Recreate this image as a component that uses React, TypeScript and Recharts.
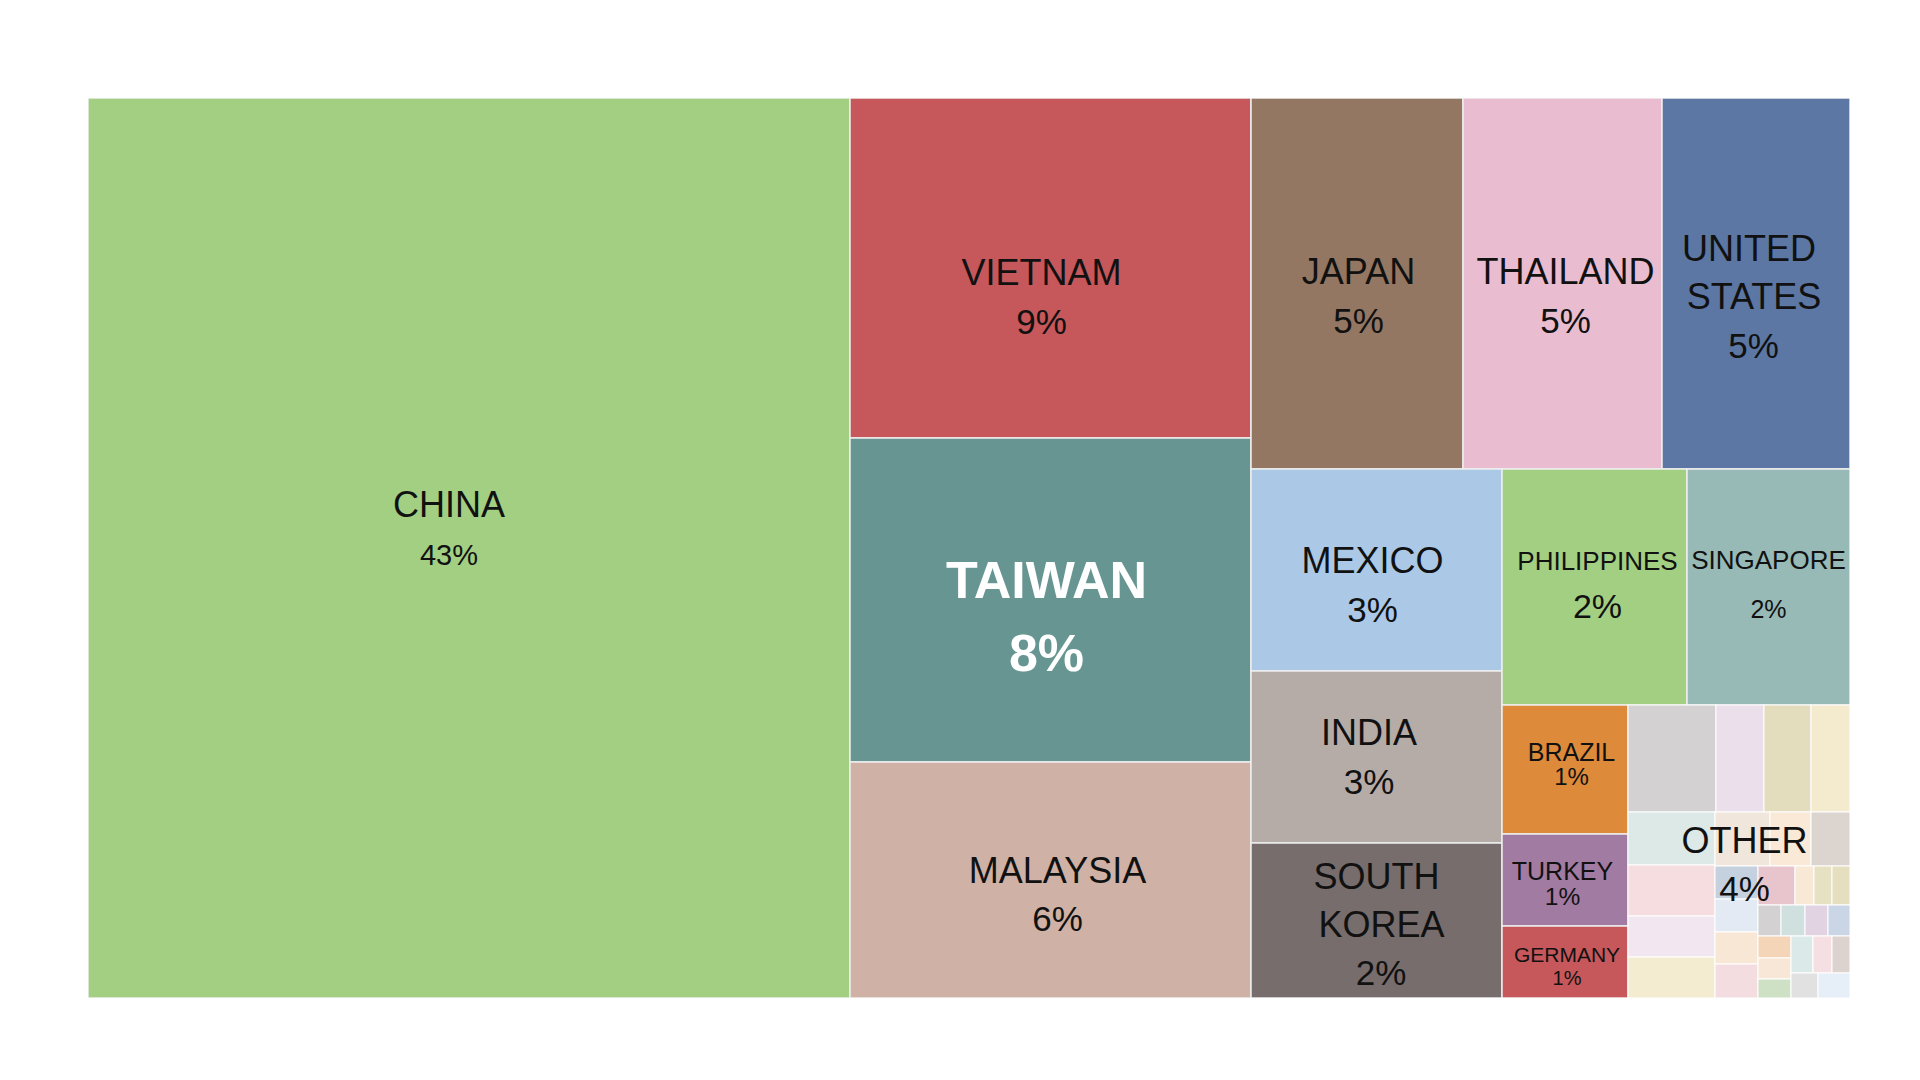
import React from 'react';
import { Treemap } from 'recharts';

// ---- data ----
const countries = [
  'CHINA', 'VIETNAM', 'TAIWAN', 'MALAYSIA', 'JAPAN', 'THAILAND', 'UNITED\nSTATES',
  'MEXICO', 'INDIA', 'SOUTH\nKOREA', 'PHILIPPINES', 'SINGAPORE', 'BRAZIL', 'TURKEY', 'GERMANY', 'OTHER',
];
const shares = [43.25, 8.6, 8.19, 5.97, 4.96, 4.66, 4.4, 3.2, 2.72, 2.45, 2.75, 2.43, 1.025, 0.73, 0.57, 0];
const shareLabels = ['43%', '9%', '8%', '6%', '5%', '5%', '5%', '3%', '3%', '2%', '2%', '2%', '1%', '1%', '1%', '4%'];
const otherShares = [
  0.5965, 0.322, 0.3152, 0.2712,
  0.2897, 0.2814, 0.2263, 0.2263,
  0.1856, 0.1392, 0.1375,
  0.0908, 0.0908, 0.0868, 0.0868,
  0.0898, 0.0467, 0.0455, 0.0431,
  0.0457, 0.0467, 0.0447, 0.0447,
  0.0461, 0.0429, 0.0407,
  0.0503, 0.0455, 0.0419,
  0.0426, 0.039,
];

// ---- styles ----
const countryColors: Record<string, string> = {
  CHINA: '#a3cf83',
  VIETNAM: '#c6575b',
  TAIWAN: '#679692',
  MALAYSIA: '#cfb2a5',
  JAPAN: '#937762',
  THAILAND: '#eabcd0',
  'UNITED\nSTATES': '#5c77a4',
  MEXICO: '#abc9e6',
  INDIA: '#b5aca8',
  'SOUTH\nKOREA': '#766d6c',
  PHILIPPINES: '#a3cf83',
  SINGAPORE: '#98bab6',
  BRAZIL: '#dd8a3a',
  TURKEY: '#a27ba2',
  GERMANY: '#c6575b',
  OTHER: '#eeeeee',
};
const otherColors = [
  '#d4d1d2', '#ebdfeb', '#e3dcbd', '#f4ebcf',
  '#dde9e6', '#f5dde0', '#f2e6f0', '#f4ecd0',
  '#f0e6dc', '#f9e9d6', '#dcd4cf',
  '#c6d1df', '#e3eaf4', '#f9e7d5', '#f4dde1',
  '#e8c5cd', '#f8e9d6', '#e7e1c3', '#e5dfc0',
  '#d3d1d2', '#cfe0df', '#e2d3e3', '#cad6e6',
  '#f5d5b8', '#f8e7d7', '#cfe1c5',
  '#dbeae8', '#f5dfe2', '#dcd3ce',
  '#e1e1e1', '#e6eef8',
];

type LabelStyle = {
  dx: number;
  nameY: number[];
  lineDx?: number[];
  pctY: number;
  pctDx?: number;
  nameSize: number;
  pctSize: number;
  bold?: boolean;
  color?: string;
};
const labelStyles: Record<string, LabelStyle> = {
  CHINA: { dx: -20, nameY: [-44], pctY: 7, nameSize: 36, pctSize: 29 },
  VIETNAM: { dx: -9, nameY: [4], pctY: 53, nameSize: 36, pctSize: 35 },
  TAIWAN: { dx: -4, nameY: [-20], pctY: 52.5, nameSize: 52, pctSize: 52, bold: true, color: '#ffffff' },
  MALAYSIA: { dx: 7, nameY: [-9.5], pctY: 38.5, nameSize: 36, pctSize: 35 },
  JAPAN: { dx: 1.5, nameY: [-11.7], pctY: 37.3, nameSize: 36, pctSize: 35 },
  THAILAND: { dx: 3, nameY: [-11.7], pctY: 37.3, nameSize: 36, pctSize: 35 },
  'UNITED\nSTATES': { dx: -4, nameY: [-35, 12.8], lineDx: [-3, 2], pctY: 61.8, pctDx: 1.5, nameSize: 36, pctSize: 35 },
  MEXICO: { dx: -4, nameY: [-10], pctY: 39, nameSize: 36, pctSize: 35 },
  INDIA: { dx: -7.5, nameY: [-25], pctY: 24, nameSize: 36, pctSize: 35 },
  'SOUTH\nKOREA': { dx: 0, nameY: [-44.5, 4], lineDx: [0, 5], pctY: 51.5, pctDx: 4.5, nameSize: 36, pctSize: 35 },
  PHILIPPINES: { dx: 3, nameY: [-26], pctY: 19, nameSize: 26, pctSize: 34 },
  SINGAPORE: { dx: 0, nameY: [-27.4], pctY: 21.6, nameSize: 26, pctSize: 25 },
  BRAZIL: { dx: 6.5, nameY: [-18], pctY: 6.5, nameSize: 25, pctSize: 24 },
  TURKEY: { dx: -2.5, nameY: [-9], pctY: 16, nameSize: 25, pctSize: 24.5 },
  GERMANY: { dx: 2, nameY: [-7.3], pctY: 16.3, nameSize: 21, pctSize: 20 },
  OTHER: { dx: 5.5, nameY: [-11.5], pctY: 36.5, nameSize: 36, pctSize: 35 },
};

const FONT = '"Liberation Sans", Arial, Helvetica, sans-serif';
const W = 1762;
const H = 900;

// ---- tree built from the arrays ----
const treeData = countries.map((name, i) =>
  name === 'OTHER'
    ? { name, children: otherShares.map((v, k) => ({ name: `other-${k + 1}`, value: v })) }
    : { name, value: shares[i] },
);

function CellContent(props: any) {
  const { x, y, width, height, depth, name, index, children } = props;
  if (!depth) return null;
  if (children && children.length) return null;
  const isSub = depth === 2;
  const fill = isSub ? otherColors[index] : countryColors[name];
  return (
    <rect
      x={x}
      y={y}
      width={width}
      height={height}
      fill={fill}
      stroke={isSub ? '#ffffff' : '#eeeeee'}
      strokeWidth={isSub ? 1 : 1.5}
    />
  );
}

function LabelContent(props: any) {
  const { x, y, width, height, depth, name } = props;
  if (depth !== 1) return null;
  const i = countries.indexOf(name);
  const st = labelStyles[name];
  if (!st || i < 0) return null;
  const cx = x + width / 2 + st.dx;
  const cy = y + height / 2;
  const lines = String(name).split('\n');
  const color = st.color || '#111111';
  const weight = st.bold ? 700 : 400;
  return (
    <g>
      {lines.map((ln, k) => (
        <text
          key={k}
          x={cx + (st.lineDx ? st.lineDx[k] : 0)}
          y={cy + st.nameY[k]}
          textAnchor="middle"
          dominantBaseline="central"
          fontFamily={FONT}
          fontSize={st.nameSize}
          fontWeight={weight}
          fill={color}
        >
          {ln}
        </text>
      ))}
      <text
        x={cx + (st.pctDx || 0)}
        y={cy + st.pctY}
        textAnchor="middle"
        dominantBaseline="central"
        fontFamily={FONT}
        fontSize={st.pctSize}
        fontWeight={weight}
        fill={color}
      >
        {shareLabels[i]}
      </text>
    </g>
  );
}

export default function App() {
  return (
    <div style={{ paddingLeft: 80, paddingTop: 90 }}>
      <div style={{ position: 'relative', width: W, height: H }}>
        <div style={{ position: 'absolute', left: 0, top: 0 }}>
          <Treemap
            width={W}
            height={H}
            data={treeData}
            dataKey="value"
            nameKey="name"
            type="flat"
            isAnimationActive={false}
            content={<CellContent />}
          />
        </div>
        <div style={{ position: 'absolute', left: 0, top: 0, pointerEvents: 'none' }}>
          <Treemap
            width={W}
            height={H}
            data={treeData}
            dataKey="value"
            nameKey="name"
            type="flat"
            isAnimationActive={false}
            content={<LabelContent />}
          />
        </div>
      </div>
    </div>
  );
}
